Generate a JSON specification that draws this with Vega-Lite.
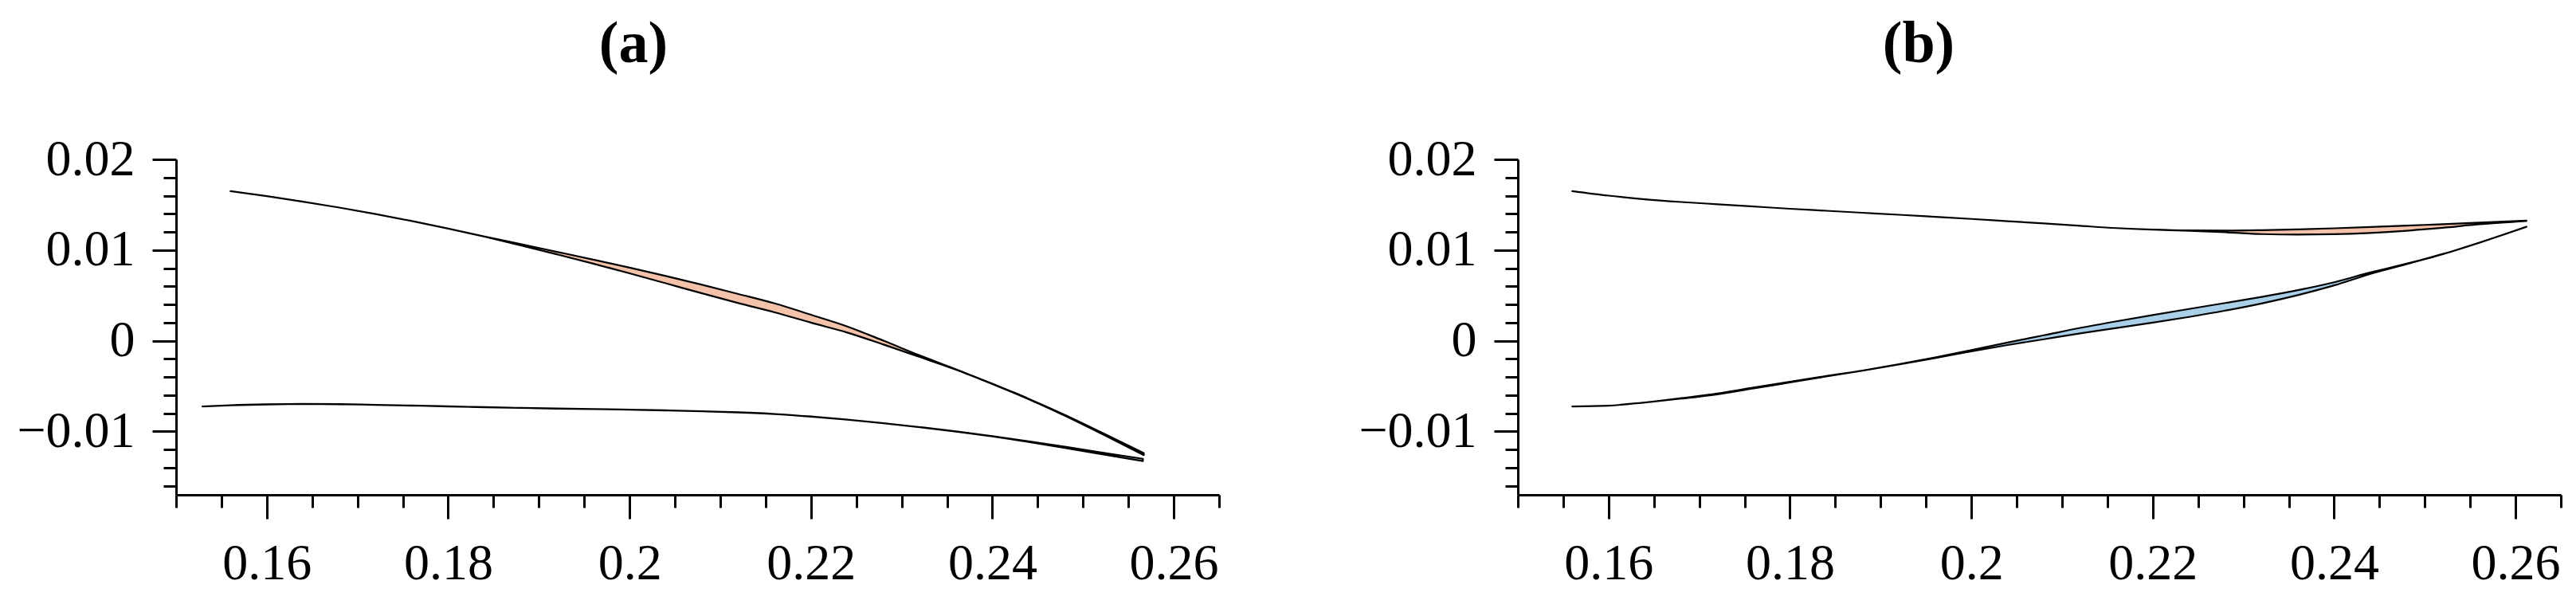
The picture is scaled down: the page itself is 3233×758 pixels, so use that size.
{
  "$schema": "https://vega.github.io/schema/vega-lite/v6.json",
  "padding": {"left": 20, "top": 19, "right": 5, "bottom": 5},
  "background": "white",
  "config": {
    "view": {"stroke": null},
    "concat": {"spacing": 172},
    "font": "Liberation Serif",
    "axis": {
      "grid": false,
      "title": null,
      "domainColor": "black",
      "domainWidth": 3,
      "tickColor": "black",
      "tickWidth": 3,
      "labelColor": "black",
      "labelFont": "Liberation Serif",
      "labelFontSize": 64,
      "labelOverlap": false,
      "labelFlush": false,
      "labelBound": false
    }
  },
  "datasets": {
    "d": [
      {"panel": "a", "series": "upper", "x": 0.156, "hi": 0.0165, "lo": 0.0165},
      {"panel": "a", "series": "upper", "x": 0.160, "hi": 0.01594, "lo": 0.01594},
      {"panel": "a", "series": "upper", "x": 0.164, "hi": 0.01533, "lo": 0.01533},
      {"panel": "a", "series": "upper", "x": 0.168, "hi": 0.01468, "lo": 0.01468},
      {"panel": "a", "series": "upper", "x": 0.172, "hi": 0.01397, "lo": 0.01397},
      {"panel": "a", "series": "upper", "x": 0.176, "hi": 0.0132, "lo": 0.0132},
      {"panel": "a", "series": "upper", "x": 0.180, "hi": 0.01237, "lo": 0.01237},
      {"panel": "a", "series": "upper", "x": 0.184, "hi": 0.0115, "lo": 0.01148},
      {"panel": "a", "series": "upper", "x": 0.188, "hi": 0.01066, "lo": 0.01052},
      {"panel": "a", "series": "upper", "x": 0.192, "hi": 0.0098, "lo": 0.00952},
      {"panel": "a", "series": "upper", "x": 0.196, "hi": 0.00894, "lo": 0.0085},
      {"panel": "a", "series": "upper", "x": 0.200, "hi": 0.00806, "lo": 0.00743},
      {"panel": "a", "series": "upper", "x": 0.204, "hi": 0.00714, "lo": 0.00633},
      {"panel": "a", "series": "upper", "x": 0.208, "hi": 0.00617, "lo": 0.00522},
      {"panel": "a", "series": "upper", "x": 0.212, "hi": 0.00515, "lo": 0.00415},
      {"panel": "a", "series": "upper", "x": 0.216, "hi": 0.00411, "lo": 0.00313},
      {"panel": "a", "series": "upper", "x": 0.220, "hi": 0.00286, "lo": 0.00199},
      {"panel": "a", "series": "upper", "x": 0.224, "hi": 0.00157, "lo": 0.0009},
      {"panel": "a", "series": "upper", "x": 0.228, "hi": 0.0, "lo": -0.00042},
      {"panel": "a", "series": "upper", "x": 0.232, "hi": -0.00163, "lo": -0.0018},
      {"panel": "a", "series": "upper", "x": 0.236, "hi": -0.00315, "lo": -0.0032},
      {"panel": "a", "series": "upper", "x": 0.240, "hi": -0.00474, "lo": -0.00478},
      {"panel": "a", "series": "upper", "x": 0.244, "hi": -0.0064, "lo": -0.00645},
      {"panel": "a", "series": "upper", "x": 0.248, "hi": -0.0082, "lo": -0.00828},
      {"panel": "a", "series": "upper", "x": 0.252, "hi": -0.01011, "lo": -0.01024},
      {"panel": "a", "series": "upper", "x": 0.2567, "hi": -0.0124, "lo": -0.01262},

      {"panel": "a", "series": "lower", "x": 0.1529, "hi": -0.00725, "lo": -0.00725},
      {"panel": "a", "series": "lower", "x": 0.156, "hi": -0.00712, "lo": -0.00713},
      {"panel": "a", "series": "lower", "x": 0.160, "hi": -0.00702, "lo": -0.00703},
      {"panel": "a", "series": "lower", "x": 0.164, "hi": -0.00697, "lo": -0.00698},
      {"panel": "a", "series": "lower", "x": 0.168, "hi": -0.007, "lo": -0.00701},
      {"panel": "a", "series": "lower", "x": 0.172, "hi": -0.00707, "lo": -0.00708},
      {"panel": "a", "series": "lower", "x": 0.176, "hi": -0.00715, "lo": -0.00716},
      {"panel": "a", "series": "lower", "x": 0.180, "hi": -0.00724, "lo": -0.00725},
      {"panel": "a", "series": "lower", "x": 0.184, "hi": -0.00733, "lo": -0.00734},
      {"panel": "a", "series": "lower", "x": 0.188, "hi": -0.00741, "lo": -0.00742},
      {"panel": "a", "series": "lower", "x": 0.192, "hi": -0.00748, "lo": -0.00749},
      {"panel": "a", "series": "lower", "x": 0.196, "hi": -0.00754, "lo": -0.00755},
      {"panel": "a", "series": "lower", "x": 0.200, "hi": -0.0076, "lo": -0.00761},
      {"panel": "a", "series": "lower", "x": 0.204, "hi": -0.00768, "lo": -0.00769},
      {"panel": "a", "series": "lower", "x": 0.208, "hi": -0.00778, "lo": -0.00779},
      {"panel": "a", "series": "lower", "x": 0.212, "hi": -0.0079, "lo": -0.00791},
      {"panel": "a", "series": "lower", "x": 0.216, "hi": -0.00808, "lo": -0.00809},
      {"panel": "a", "series": "lower", "x": 0.220, "hi": -0.00836, "lo": -0.00837},
      {"panel": "a", "series": "lower", "x": 0.224, "hi": -0.0087, "lo": -0.00871},
      {"panel": "a", "series": "lower", "x": 0.228, "hi": -0.0091, "lo": -0.00911},
      {"panel": "a", "series": "lower", "x": 0.232, "hi": -0.00953, "lo": -0.00955},
      {"panel": "a", "series": "lower", "x": 0.236, "hi": -0.00999, "lo": -0.01002},
      {"panel": "a", "series": "lower", "x": 0.240, "hi": -0.01052, "lo": -0.01056},
      {"panel": "a", "series": "lower", "x": 0.244, "hi": -0.01109, "lo": -0.01116},
      {"panel": "a", "series": "lower", "x": 0.248, "hi": -0.0117, "lo": -0.01182},
      {"panel": "a", "series": "lower", "x": 0.252, "hi": -0.01233, "lo": -0.01251},
      {"panel": "a", "series": "lower", "x": 0.2566, "hi": -0.01302, "lo": -0.01328},

      {"panel": "b", "series": "upper", "x": 0.156, "hi": 0.0165, "lo": 0.0165},
      {"panel": "b", "series": "upper", "x": 0.160, "hi": 0.016, "lo": 0.016},
      {"panel": "b", "series": "upper", "x": 0.164, "hi": 0.0156, "lo": 0.0156},
      {"panel": "b", "series": "upper", "x": 0.168, "hi": 0.0153, "lo": 0.0153},
      {"panel": "b", "series": "upper", "x": 0.172, "hi": 0.01505, "lo": 0.01505},
      {"panel": "b", "series": "upper", "x": 0.176, "hi": 0.0148, "lo": 0.0148},
      {"panel": "b", "series": "upper", "x": 0.180, "hi": 0.01455, "lo": 0.01455},
      {"panel": "b", "series": "upper", "x": 0.184, "hi": 0.01433, "lo": 0.01433},
      {"panel": "b", "series": "upper", "x": 0.188, "hi": 0.01411, "lo": 0.01411},
      {"panel": "b", "series": "upper", "x": 0.192, "hi": 0.01389, "lo": 0.01389},
      {"panel": "b", "series": "upper", "x": 0.196, "hi": 0.01366, "lo": 0.01366},
      {"panel": "b", "series": "upper", "x": 0.200, "hi": 0.01343, "lo": 0.01343},
      {"panel": "b", "series": "upper", "x": 0.204, "hi": 0.01318, "lo": 0.01318},
      {"panel": "b", "series": "upper", "x": 0.208, "hi": 0.01293, "lo": 0.01293},
      {"panel": "b", "series": "upper", "x": 0.212, "hi": 0.01267, "lo": 0.01267},
      {"panel": "b", "series": "upper", "x": 0.216, "hi": 0.01242, "lo": 0.01242},
      {"panel": "b", "series": "upper", "x": 0.220, "hi": 0.01225, "lo": 0.01225},
      {"panel": "b", "series": "upper", "x": 0.224, "hi": 0.01216, "lo": 0.01213},
      {"panel": "b", "series": "upper", "x": 0.228, "hi": 0.01214, "lo": 0.01196},
      {"panel": "b", "series": "upper", "x": 0.232, "hi": 0.01219, "lo": 0.01176},
      {"panel": "b", "series": "upper", "x": 0.236, "hi": 0.01228, "lo": 0.01171},
      {"panel": "b", "series": "upper", "x": 0.240, "hi": 0.0124, "lo": 0.01175},
      {"panel": "b", "series": "upper", "x": 0.244, "hi": 0.01254, "lo": 0.01189},
      {"panel": "b", "series": "upper", "x": 0.248, "hi": 0.01269, "lo": 0.01213},
      {"panel": "b", "series": "upper", "x": 0.252, "hi": 0.01285, "lo": 0.01246},
      {"panel": "b", "series": "upper", "x": 0.256, "hi": 0.01302, "lo": 0.01284},
      {"panel": "b", "series": "upper", "x": 0.2612, "hi": 0.01325, "lo": 0.0132},

      {"panel": "b", "series": "lower", "x": 0.156, "hi": -0.00725, "lo": -0.00725},
      {"panel": "b", "series": "lower", "x": 0.160, "hi": -0.00716, "lo": -0.00716},
      {"panel": "b", "series": "lower", "x": 0.164, "hi": -0.00681, "lo": -0.00681},
      {"panel": "b", "series": "lower", "x": 0.168, "hi": -0.00634, "lo": -0.00639},
      {"panel": "b", "series": "lower", "x": 0.172, "hi": -0.00583, "lo": -0.00591},
      {"panel": "b", "series": "lower", "x": 0.176, "hi": -0.00517, "lo": -0.00527},
      {"panel": "b", "series": "lower", "x": 0.180, "hi": -0.00452, "lo": -0.0046},
      {"panel": "b", "series": "lower", "x": 0.184, "hi": -0.0039, "lo": -0.00394},
      {"panel": "b", "series": "lower", "x": 0.188, "hi": -0.00329, "lo": -0.0033},
      {"panel": "b", "series": "lower", "x": 0.192, "hi": -0.0026, "lo": -0.00262},
      {"panel": "b", "series": "lower", "x": 0.196, "hi": -0.00184, "lo": -0.00191},
      {"panel": "b", "series": "lower", "x": 0.200, "hi": -0.00104, "lo": -0.00118},
      {"panel": "b", "series": "lower", "x": 0.204, "hi": -0.0002, "lo": -0.00048},
      {"panel": "b", "series": "lower", "x": 0.208, "hi": 0.0006, "lo": 0.00016},
      {"panel": "b", "series": "lower", "x": 0.212, "hi": 0.00141, "lo": 0.00081},
      {"panel": "b", "series": "lower", "x": 0.216, "hi": 0.00214, "lo": 0.0014},
      {"panel": "b", "series": "lower", "x": 0.220, "hi": 0.00283, "lo": 0.00199},
      {"panel": "b", "series": "lower", "x": 0.224, "hi": 0.0035, "lo": 0.00262},
      {"panel": "b", "series": "lower", "x": 0.228, "hi": 0.00416, "lo": 0.00332},
      {"panel": "b", "series": "lower", "x": 0.232, "hi": 0.00483, "lo": 0.00411},
      {"panel": "b", "series": "lower", "x": 0.236, "hi": 0.00557, "lo": 0.00503},
      {"panel": "b", "series": "lower", "x": 0.240, "hi": 0.00644, "lo": 0.0061},
      {"panel": "b", "series": "lower", "x": 0.244, "hi": 0.00753, "lo": 0.00737},
      {"panel": "b", "series": "lower", "x": 0.248, "hi": 0.0085, "lo": 0.00844},
      {"panel": "b", "series": "lower", "x": 0.252, "hi": 0.00957, "lo": 0.00955},
      {"panel": "b", "series": "lower", "x": 0.256, "hi": 0.01082, "lo": 0.0108},
      {"panel": "b", "series": "lower", "x": 0.2612, "hi": 0.01258, "lo": 0.01255}
    ]
  },
  "hconcat": [
    {
      "width": 1309,
      "height": 421,
      "title": {"text": "(a)", "anchor": "start", "frame": "group", "align": "center", "dx": 574, "fontSize": 74, "fontWeight": "bold", "font": "Liberation Serif", "color": "black", "offset": 74},
      "data": {"name": "d"},
      "transform": [{"filter": "datum.panel === 'a'"}],
      "mark": {"type": "area", "stroke": "black", "strokeWidth": 2.2, "strokeJoin": "round", "interpolate": "monotone"},
      "encoding": {
        "x": {
          "field": "x", "type": "quantitative",
          "scale": {"domain": [0.15, 0.265], "nice": false, "zero": false},
          "axis": {
            "values": [0.15, 0.155, 0.16, 0.165, 0.17, 0.175, 0.18, 0.185, 0.19, 0.195, 0.2, 0.205, 0.21, 0.215, 0.22, 0.225, 0.23, 0.235, 0.24, 0.245, 0.25, 0.255, 0.26, 0.265],
            "tickSize": {"condition": {"test": "abs(datum.value/0.02 - round(datum.value/0.02)) < 0.000001", "value": 30}, "value": 16},
            "labelExpr": "abs(datum.value/0.02 - round(datum.value/0.02)) < 0.000001 ? format(datum.value, '.2~f') : ''",
            "labelPadding": 24
          }
        },
        "y": {
          "field": "hi", "type": "quantitative",
          "scale": {"domain": [-0.017, 0.02], "nice": false, "zero": false},
          "axis": {
            "values": [-0.016, -0.014, -0.012, -0.01, -0.008, -0.006, -0.004, -0.002, 0, 0.002, 0.004, 0.006, 0.008, 0.01, 0.012, 0.014, 0.016, 0.018, 0.02],
            "tickSize": {"condition": {"test": "abs(datum.value/0.01 - round(datum.value/0.01)) < 0.000001", "value": 30}, "value": 16},
            "labelExpr": "abs(datum.value/0.01 - round(datum.value/0.01)) < 0.000001 ? format(datum.value, '.2~f') : ''",
            "labelPadding": 22
          }
        },
        "y2": {"field": "lo"},
        "color": {"field": "series", "type": "nominal", "scale": {"domain": ["upper", "lower"], "range": ["#f2c2ab", "#a9cfe9"]}, "legend": null}
      }
    },
    {
      "width": 1309,
      "height": 421,
      "title": {"text": "(b)", "anchor": "start", "frame": "group", "align": "center", "dx": 503, "fontSize": 74, "fontWeight": "bold", "font": "Liberation Serif", "color": "black", "offset": 74},
      "data": {"name": "d"},
      "transform": [{"filter": "datum.panel === 'b'"}],
      "mark": {"type": "area", "stroke": "black", "strokeWidth": 2.2, "strokeJoin": "round", "interpolate": "monotone"},
      "encoding": {
        "x": {
          "field": "x", "type": "quantitative",
          "scale": {"domain": [0.15, 0.265], "nice": false, "zero": false},
          "axis": {
            "values": [0.15, 0.155, 0.16, 0.165, 0.17, 0.175, 0.18, 0.185, 0.19, 0.195, 0.2, 0.205, 0.21, 0.215, 0.22, 0.225, 0.23, 0.235, 0.24, 0.245, 0.25, 0.255, 0.26, 0.265],
            "tickSize": {"condition": {"test": "abs(datum.value/0.02 - round(datum.value/0.02)) < 0.000001", "value": 30}, "value": 16},
            "labelExpr": "abs(datum.value/0.02 - round(datum.value/0.02)) < 0.000001 ? format(datum.value, '.2~f') : ''",
            "labelPadding": 24
          }
        },
        "y": {
          "field": "hi", "type": "quantitative",
          "scale": {"domain": [-0.017, 0.02], "nice": false, "zero": false},
          "axis": {
            "values": [-0.016, -0.014, -0.012, -0.01, -0.008, -0.006, -0.004, -0.002, 0, 0.002, 0.004, 0.006, 0.008, 0.01, 0.012, 0.014, 0.016, 0.018, 0.02],
            "tickSize": {"condition": {"test": "abs(datum.value/0.01 - round(datum.value/0.01)) < 0.000001", "value": 30}, "value": 16},
            "labelExpr": "abs(datum.value/0.01 - round(datum.value/0.01)) < 0.000001 ? format(datum.value, '.2~f') : ''",
            "labelPadding": 22
          }
        },
        "y2": {"field": "lo"},
        "color": {"field": "series", "type": "nominal", "scale": {"domain": ["upper", "lower"], "range": ["#f2c2ab", "#a9cfe9"]}, "legend": null}
      }
    }
  ]
}
